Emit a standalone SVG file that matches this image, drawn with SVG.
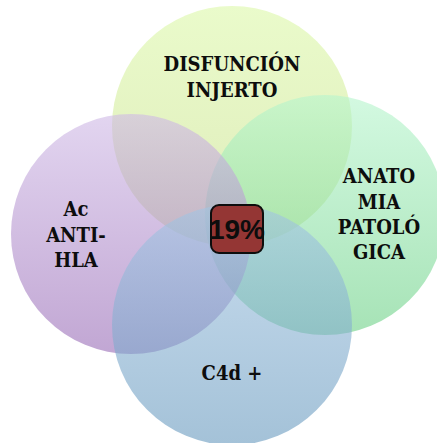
<svg xmlns="http://www.w3.org/2000/svg" width="437" height="443" viewBox="0 0 437 443">
<defs>
<linearGradient id="gTop" x1="0" y1="0" x2="0" y2="1"><stop offset="0" stop-color="#dcf8a8"/><stop offset="1" stop-color="#c9df8c"/></linearGradient>
<linearGradient id="gLeft" x1="0" y1="0" x2="0" y2="1"><stop offset="0" stop-color="#cfb9e6"/><stop offset="1" stop-color="#986bb6"/></linearGradient>
<linearGradient id="gRight" x1="0" y1="0" x2="0" y2="1"><stop offset="0" stop-color="#b6f5cd"/><stop offset="1" stop-color="#6bd085"/></linearGradient>
<linearGradient id="gBot" x1="0" y1="0" x2="0" y2="1"><stop offset="0" stop-color="#a3c5e3"/><stop offset="1" stop-color="#6799be"/></linearGradient>
<style>
.c{fill-opacity:0.6;stroke:none}
.t{font-family:"DejaVu Serif","Liberation Serif",serif;font-weight:bold;font-size:20px;font-stretch:condensed;fill:#0d0d0d;text-anchor:middle}
.p{font-family:"Liberation Sans",Arial,sans-serif;font-weight:bold;font-size:28px;fill:#0d0d0d;text-anchor:middle}
</style>
</defs>
<rect width="437" height="443" fill="#ffffff"/>
<g id="top">
<circle class="c" cx="232" cy="126" r="120" fill="url(#gTop)"/>
</g>
<g id="right">
<circle class="c" cx="325" cy="215" r="120" fill="url(#gRight)"/>
</g>
<g id="left">
<circle class="c" cx="131" cy="234" r="120" fill="url(#gLeft)"/>
</g>
<g id="bottom">
<circle class="c" cx="232" cy="325" r="120" fill="url(#gBot)"/>
</g>
<g id="labels">
<text class="t" x="232" y="71">DISFUNCIÓN</text>
<text class="t" x="232" y="97">INJERTO</text>
<text class="t" x="379" y="183">ANATO</text>
<text class="t" x="379" y="209">MIA</text>
<text class="t" x="379" y="234">PATOLÓ</text>
<text class="t" x="379" y="259">GICA</text>
<text class="t" x="76" y="216">Ac</text>
<text class="t" x="76" y="242">ANTI-</text>
<text class="t" x="76" y="267">HLA</text>
<text class="t" x="232" y="380">C4d +</text>
</g>
<g id="center">
<rect x="211" y="205" width="52" height="48" rx="8" fill="#943634" stroke="#0d0d0d" stroke-width="2"/>
<text class="p" x="237" y="239">19%</text>
</g>
</svg>
